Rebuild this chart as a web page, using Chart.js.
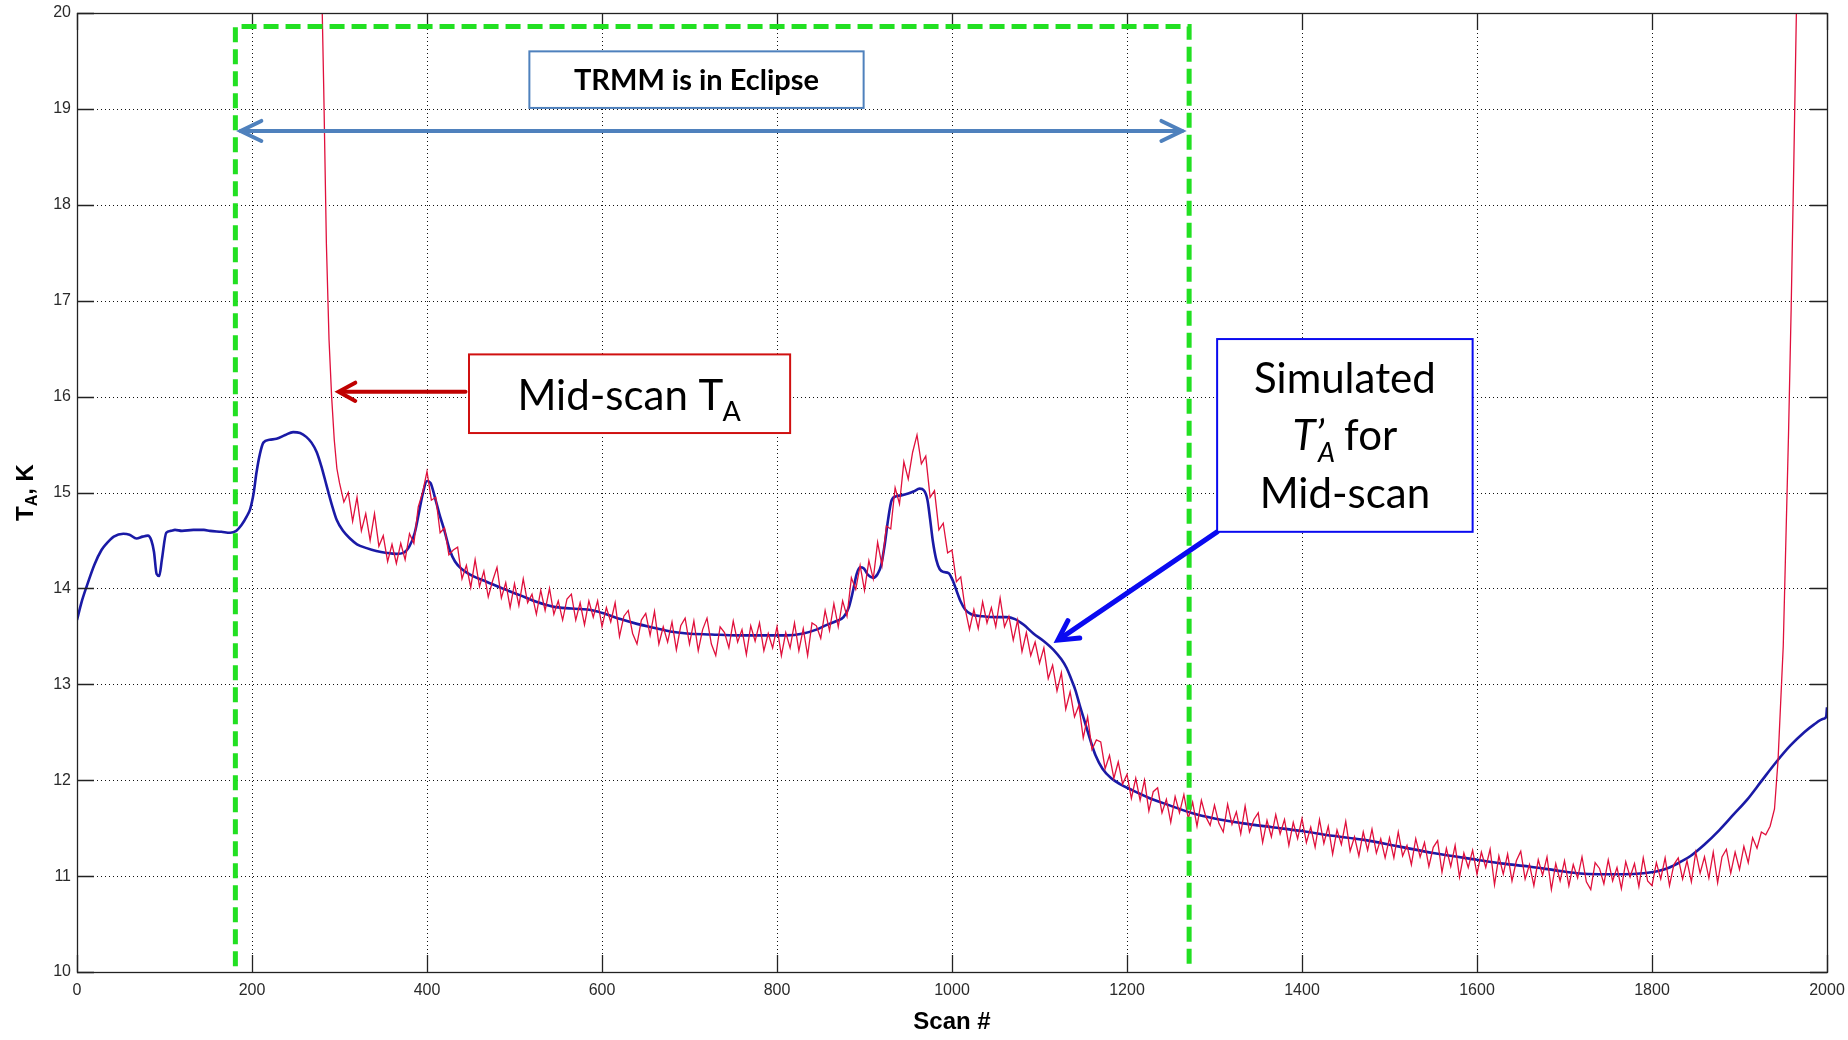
<!DOCTYPE html>
<html>
<head>
<meta charset="utf-8">
<title>TRMM eclipse mid-scan TA</title>
<script src="https://cdn.jsdelivr.net/npm/chart.js@4.4.1/dist/chart.umd.min.js"></script>
<style>
  html, body { margin: 0; padding: 0; background: #fff; }
  #wrap { width: 1848px; height: 1040px; }
</style>
</head>
<body>
<div id="wrap"><canvas id="taChart" width="1848" height="1040"></canvas></div>
<script>
// axis ticks
const xTicks = [0, 200, 400, 600, 800, 1000, 1200, 1400, 1600, 1800, 2000];
const yTicks = [10, 11, 12, 13, 14, 15, 16, 17, 18, 19, 20];

// simulated T'A (blue)
const blueScan = [
  0, 5, 11, 20, 28, 34, 42, 53, 60, 68,
  75, 81, 85, 88, 91, 94, 97, 102, 107, 112,
  120, 133, 145, 152, 165, 175, 182, 188, 194, 198,
  202, 205, 209, 213, 220, 228, 238, 247, 255, 262,
  268, 274, 280, 285, 291, 297, 304, 312, 320, 331,
  342, 354, 365, 373, 380, 386, 391, 395, 400, 404,
  409, 414, 420, 426, 432, 440, 452, 468, 486, 506,
  525, 544, 565, 590, 605, 621, 640, 659, 678, 697,
  725, 754, 785, 811, 830, 845, 857, 868, 876, 882,
  887, 891, 895, 899, 904, 910, 915, 919, 923, 927,
  931, 936, 942, 950, 956, 963, 968, 972, 975, 978,
  982, 986, 991, 996, 1001, 1005, 1010, 1015, 1022, 1035,
  1050, 1062, 1072, 1082, 1093, 1105, 1116, 1125, 1131, 1136,
  1141, 1146, 1152, 1158, 1164, 1172, 1182, 1192, 1205, 1224,
  1248, 1273, 1300, 1333, 1366, 1400, 1435, 1469, 1510, 1550,
  1600, 1630, 1659, 1690, 1714, 1740, 1768, 1790, 1806, 1820,
  1833, 1844, 1860, 1877, 1893, 1909, 1925, 1942, 1958, 1974,
  1985, 1996, 1999, 2000
];
const blueTemp = [
  13.67, 13.85, 14.02, 14.25, 14.40, 14.47, 14.54, 14.57, 14.56, 14.52,
  14.54, 14.55, 14.50, 14.38, 14.15, 14.13, 14.30, 14.58, 14.60, 14.61,
  14.60, 14.61, 14.61, 14.60, 14.59, 14.58, 14.60, 14.66, 14.75, 14.83,
  15.00, 15.20, 15.40, 15.52, 15.55, 15.56, 15.60, 15.63, 15.62, 15.58,
  15.52, 15.42, 15.25, 15.08, 14.88, 14.71, 14.60, 14.52, 14.46, 14.42,
  14.39, 14.37, 14.36, 14.37, 14.44, 14.58, 14.80, 14.98, 15.12, 15.10,
  14.95, 14.78, 14.60, 14.40, 14.28, 14.20, 14.13, 14.07, 14.00, 13.93,
  13.86, 13.81, 13.79, 13.77, 13.73, 13.68, 13.63, 13.59, 13.55, 13.53,
  13.52, 13.51, 13.51, 13.51, 13.53, 13.57, 13.62, 13.66, 13.70, 13.80,
  13.98, 14.15, 14.22, 14.21, 14.14, 14.11, 14.15, 14.24, 14.45, 14.72,
  14.92, 14.96, 14.97, 14.99, 15.01, 15.04, 15.02, 14.92, 14.72, 14.50,
  14.30, 14.20, 14.17, 14.16, 14.08, 13.98, 13.86, 13.78, 13.73, 13.71,
  13.70, 13.70, 13.68, 13.62, 13.53, 13.45, 13.36, 13.26, 13.17, 13.06,
  12.94, 12.78, 12.60, 12.42, 12.26, 12.12, 12.02, 11.96, 11.90, 11.82,
  11.74, 11.66, 11.60, 11.55, 11.51, 11.47, 11.42, 11.38, 11.31, 11.24,
  11.17, 11.13, 11.10, 11.06, 11.03, 11.02, 11.02, 11.03, 11.05, 11.09,
  11.15, 11.21, 11.33, 11.48, 11.64, 11.80, 11.99, 12.19, 12.36, 12.50,
  12.58, 12.64, 12.66, 12.76
];

// mid-scan TA (red): steep start, every 5th scan from 300 to 1935, steep end
const redHeadScan = [279, 282, 285, 288, 291, 294, 297];
const redHeadTemp = [20.6, 19.2, 17.6, 16.6, 16.0, 15.55, 15.25];
const redFirstScan = 300;
const redScanStep = 5;
const redTemp = [
  15.10, 14.90, 15.00, 14.70, 14.95, 14.60, 14.78, 14.50, 14.78, 14.44, 14.55, 14.28, 14.46, 14.26, 14.47, 14.30, 14.57, 14.47, 14.85, 15.00,
  15.22, 14.92, 14.95, 14.58, 14.63, 14.35, 14.40, 14.43, 14.10, 14.24, 14.01, 14.30, 14.02, 14.18, 13.91, 14.08, 14.22, 13.90, 14.06, 13.80,
  14.05, 13.82, 14.10, 13.85, 13.94, 13.73, 13.98, 13.77, 14.00, 13.73, 13.87, 13.67, 13.89, 13.94, 13.67, 13.85, 13.62, 13.87, 13.70, 13.87,
  13.60, 13.80, 13.65, 13.85, 13.50, 13.71, 13.77, 13.53, 13.42, 13.67, 13.74, 13.51, 13.76, 13.42, 13.60, 13.44, 13.65, 13.36, 13.61, 13.69,
  13.42, 13.66, 13.35, 13.57, 13.69, 13.42, 13.30, 13.60, 13.54, 13.38, 13.66, 13.44, 13.57, 13.31, 13.61, 13.45, 13.64, 13.35, 13.53, 13.38,
  13.60, 13.30, 13.54, 13.38, 13.64, 13.35, 13.58, 13.30, 13.64, 13.61, 13.48, 13.77, 13.56, 13.84, 13.60, 13.87, 13.71, 14.11, 13.99, 14.24,
  13.98, 14.29, 14.10, 14.48, 14.24, 14.65, 14.62, 15.05, 14.88, 15.32, 15.14, 15.42, 15.60, 15.30, 15.38, 14.95, 15.02, 14.61, 14.68, 14.37,
  14.40, 14.07, 14.12, 13.79, 13.57, 13.78, 13.58, 13.86, 13.64, 13.80, 13.60, 13.90, 13.60, 13.71, 13.46, 13.67, 13.34, 13.54, 13.30, 13.44,
  13.22, 13.38, 13.06, 13.20, 12.93, 13.12, 12.74, 12.92, 12.66, 12.78, 12.44, 12.66, 12.32, 12.42, 12.40, 12.12, 12.26, 12.02, 12.19, 11.96,
  12.06, 11.81, 12.02, 11.79, 12.00, 11.68, 11.88, 11.92, 11.66, 11.80, 11.56, 11.83, 11.66, 11.85, 11.60, 11.77, 11.52, 11.79, 11.62, 11.53,
  11.74, 11.55, 11.46, 11.75, 11.54, 11.67, 11.44, 11.73, 11.46, 11.59, 11.66, 11.35, 11.58, 11.41, 11.64, 11.44, 11.59, 11.32, 11.56, 11.39,
  11.60, 11.35, 11.51, 11.30, 11.59, 11.34, 11.52, 11.23, 11.48, 11.33, 11.57, 11.26, 11.41, 11.21, 11.46, 11.27, 11.49, 11.24, 11.39, 11.19,
  11.40, 11.19, 11.46, 11.21, 11.32, 11.12, 11.39, 11.20, 11.35, 11.10, 11.30, 11.37, 11.04, 11.29, 11.10, 11.32, 10.99, 11.24, 11.09, 11.27,
  11.02, 11.25, 11.09, 11.28, 10.91, 11.21, 11.02, 11.23, 10.95, 11.16, 11.26, 10.97, 11.12, 10.90, 11.17, 11.01, 11.20, 10.86, 11.13, 10.95,
  11.16, 10.90, 11.12, 10.98, 11.20, 10.94, 10.86, 11.14, 11.08, 10.92, 11.17, 10.95, 11.09, 10.87, 11.15, 10.99, 11.13, 10.89, 11.19, 10.95,
  10.90, 11.14, 10.97, 11.19, 10.90, 11.12, 11.19, 10.97, 11.16, 10.94, 11.25, 11.03, 11.20, 10.98, 11.25, 10.93, 11.20, 11.28, 11.03, 11.25,
  11.07, 11.31, 11.14, 11.40, 11.29, 11.46, 11.43, 11.52
];
const redTailScan = [1940, 1944, 1947, 1950, 1953, 1956, 1959, 1962, 1965, 1968];
const redTailTemp = [11.70, 12.20, 12.80, 13.40, 14.50, 15.60, 16.90, 18.40, 20.00, 21.50];

const bluePoints = blueScan.map((s, i) => ({ x: s, y: blueTemp[i] }));
const redPoints = redHeadScan.map((s, i) => ({ x: s, y: redHeadTemp[i] }))
  .concat(redTemp.map((t, i) => ({ x: redFirstScan + i * redScanStep, y: t })))
  .concat(redTailScan.map((s, i) => ({ x: s, y: redTailTemp[i] })));

function chevron(ctx, tipX, tipY, dirX, dirY, len, spread) {
  const ang = Math.atan2(dirY, dirX);
  ctx.beginPath();
  ctx.moveTo(tipX - len * Math.cos(ang - spread), tipY - len * Math.sin(ang - spread));
  ctx.lineTo(tipX, tipY);
  ctx.lineTo(tipX - len * Math.cos(ang + spread), tipY - len * Math.sin(ang + spread));
  ctx.stroke();
}

function box(ctx, l, t, r, b, color) {
  ctx.fillStyle = '#fff';
  ctx.fillRect(l, t, r - l, b - t);
  ctx.strokeStyle = color;
  ctx.lineWidth = 2;
  ctx.strokeRect(l, t, r - l, b - t);
}

// no extra room for edge labels: the layout padding places the plot box
function noEdgePadding(s) {
  s.paddingLeft = 0;
  s.paddingRight = 0;
  s.paddingTop = 0;
  s.paddingBottom = 0;
}

// grid, frame, ticks and the slide annotations
const decorations = {
  id: 'decorations',
  beforeDatasetsDraw(chart) {
    const { ctx, chartArea: a, scales: { x, y } } = chart;
    ctx.save();
    ctx.strokeStyle = '#111';
    ctx.lineWidth = 1;
    ctx.setLineDash([1, 3]);
    ctx.beginPath();
    x.ticks.forEach(t => {
      const p = Math.round(x.getPixelForValue(t.value)) + 0.5;
      if (p > a.left + 2 && p < a.right - 2) { ctx.moveTo(p, a.top); ctx.lineTo(p, a.bottom); }
    });
    y.ticks.forEach(t => {
      const p = Math.round(y.getPixelForValue(t.value)) + 0.5;
      if (p > a.top + 2 && p < a.bottom - 2) { ctx.moveTo(a.left, p); ctx.lineTo(a.right, p); }
    });
    ctx.stroke();
    ctx.restore();
  },
  afterDatasetsDraw(chart) {
    const { ctx, chartArea: a, scales: { x, y } } = chart;
    const tick = 17;
    ctx.save();
    ctx.strokeStyle = '#222';
    ctx.lineWidth = 1.3;
    ctx.beginPath();
    x.ticks.forEach(t => {
      const p = Math.round(x.getPixelForValue(t.value)) + 0.5;
      ctx.moveTo(p, a.bottom); ctx.lineTo(p, a.bottom - tick);
      ctx.moveTo(p, a.top); ctx.lineTo(p, a.top + tick);
    });
    y.ticks.forEach(t => {
      const p = Math.round(y.getPixelForValue(t.value)) + 0.5;
      ctx.moveTo(a.left, p); ctx.lineTo(a.left + tick, p);
      ctx.moveTo(a.right, p); ctx.lineTo(a.right - tick, p);
    });
    ctx.stroke();
    ctx.strokeRect(Math.round(a.left) + 0.5, Math.round(a.top) + 0.5, Math.round(a.right - a.left), Math.round(a.bottom - a.top));

    // eclipse period: green dashed frame
    const gl = x.getPixelForValue(181), gr = x.getPixelForValue(1271);
    const gt = y.getPixelForValue(19.86), gb = y.getPixelForValue(10.06);
    ctx.strokeStyle = '#22e022';
    ctx.lineWidth = 5;
    ctx.setLineDash([15, 7]);
    ctx.beginPath();
    ctx.moveTo(gl, gb); ctx.lineTo(gl, gt); ctx.lineTo(gr, gt); ctx.lineTo(gr, gb);
    ctx.stroke();
    ctx.setLineDash([]);

    // double arrow across the eclipse
    const ay = y.getPixelForValue(18.77);
    const al = x.getPixelForValue(187), ar = x.getPixelForValue(1263);
    ctx.strokeStyle = '#4f81bd';
    ctx.lineWidth = 4;
    ctx.lineCap = 'round';
    ctx.beginPath(); ctx.moveTo(al, ay); ctx.lineTo(ar, ay); ctx.stroke();
    chevron(ctx, al, ay, -1, 0, 23, 0.45);
    chevron(ctx, ar, ay, 1, 0, 23, 0.45);

    // title box
    const tl = x.getPixelForValue(517), tr = x.getPixelForValue(899);
    const tt = y.getPixelForValue(19.6), tb = y.getPixelForValue(19.01);
    box(ctx, tl, tt, tr, tb, '#4f81bd');
    ctx.fillStyle = '#000';
    ctx.font = 'bold 29px Lato';
    ctx.textAlign = 'center';
    ctx.textBaseline = 'alphabetic';
    ctx.fillText('TRMM is in Eclipse', (tl + tr) / 2, tt + 39);

    // mid-scan label and arrow
    const ry = y.getPixelForValue(16.05);
    const rs = x.getPixelForValue(444), re = x.getPixelForValue(299);
    ctx.strokeStyle = '#c00000';
    ctx.lineWidth = 4;
    ctx.beginPath(); ctx.moveTo(rs, ry); ctx.lineTo(re + 2, ry); ctx.stroke();
    chevron(ctx, re, ry, -1, 0, 19, 0.5);
    const ml = x.getPixelForValue(448), mr = x.getPixelForValue(815);
    const mt = y.getPixelForValue(16.44), mb = y.getPixelForValue(15.62);
    box(ctx, ml, mt, mr, mb, '#d01010');
    ctx.fillStyle = '#000';
    ctx.textAlign = 'left';
    ctx.font = '42px Lato';
    const mainW = ctx.measureText('Mid-scan T').width;
    ctx.font = '27px Lato';
    const subW = ctx.measureText('A').width;
    let mx = (ml + mr) / 2 - (mainW + subW) / 2;
    ctx.font = '42px Lato';
    ctx.fillText('Mid-scan T', mx, mt + 56);
    ctx.font = '27px Lato';
    ctx.fillText('A', mx + mainW - 1, mt + 67);

    // simulated label and arrow
    const sl = x.getPixelForValue(1303), sr = x.getPixelForValue(1595);
    const st = y.getPixelForValue(16.60), sb = y.getPixelForValue(14.59);
    const tipX = x.getPixelForValue(1121), tipY = y.getPixelForValue(13.46);
    ctx.strokeStyle = '#0a0af0';
    ctx.lineWidth = 5;
    ctx.beginPath(); ctx.moveTo(sl, sb); ctx.lineTo(tipX + 3, tipY - 2); ctx.stroke();
    chevron(ctx, tipX, tipY, tipX - sl, tipY - sb, 22, 0.5);
    box(ctx, sl, st, sr, sb, '#0a0af0');
    const cx = (sl + sr) / 2;
    ctx.fillStyle = '#000';
    ctx.textAlign = 'center';
    ctx.font = '42px Lato';
    ctx.fillText('Simulated', cx, st + 54);
    ctx.fillText('Mid-scan', cx, st + 169);
    ctx.textAlign = 'left';
    ctx.font = 'italic 42px Lato';
    const tW = ctx.measureText('T\u2019').width;
    ctx.font = 'italic 27px Lato';
    const aW = ctx.measureText('A').width;
    ctx.font = '42px Lato';
    const fW = ctx.measureText('for').width;
    const gap = 9;
    let lx = cx - (tW - 6 + aW + gap + fW) / 2;
    ctx.font = 'italic 42px Lato';
    ctx.fillText('T\u2019', lx, st + 111);
    ctx.font = 'italic 27px Lato';
    ctx.fillText('A', lx + tW - 6, st + 123);
    ctx.font = '42px Lato';
    ctx.fillText('for', lx + tW - 6 + aW + gap, st + 111);

    // y axis title with subscript
    const yc = (a.top + a.bottom) / 2;
    ctx.translate(26, yc);
    ctx.rotate(-Math.PI / 2);
    ctx.fillStyle = '#000';
    ctx.font = 'bold 24px "Liberation Sans"';
    const w1 = ctx.measureText('T').width;
    const w3 = ctx.measureText(', K').width;
    ctx.font = 'bold 16px "Liberation Sans"';
    const w2 = ctx.measureText('A').width;
    let tx = -(w1 + w2 + w3) / 2;
    ctx.textBaseline = 'middle';
    ctx.font = 'bold 24px "Liberation Sans"';
    ctx.fillText('T', tx, 0);
    ctx.font = 'bold 16px "Liberation Sans"';
    ctx.fillText('A', tx + w1, 7);
    ctx.font = 'bold 24px "Liberation Sans"';
    ctx.fillText(', K', tx + w1 + w2, 0);
    ctx.restore();
  }
};

const ctx = document.getElementById('taChart').getContext('2d');
const chart = new Chart(ctx, {
  type: 'line',
  data: {
    datasets: [
      {
        label: 'Mid-scan TA',
        data: redPoints,
        borderColor: '#e0103c',
        borderWidth: 1.3,
        pointRadius: 0,
        tension: 0
      },
      {
        label: "Simulated T'A",
        data: bluePoints,
        borderColor: '#1a1aa6',
        borderWidth: 2.6,
        pointRadius: 0,
        cubicInterpolationMode: 'monotone'
      }
    ]
  },
  options: {
    responsive: false,
    devicePixelRatio: 1,
    animation: false,
    layout: { padding: { top: 13, right: 21, left: 0, bottom: 0 } },
    plugins: { legend: { display: false }, tooltip: { enabled: false } },
    scales: {
      x: {
        type: 'linear',
        min: 0,
        max: 2000,
        afterBuildTicks: s => { s.ticks = xTicks.map(v => ({ value: v })); },
        afterFit: s => { s.height = 68; noEdgePadding(s); },
        grid: { display: false, drawTicks: false },
        border: { display: false },
        ticks: {
          autoSkip: false,
          maxRotation: 0,
          padding: 9,
          color: '#2a2a2a',
          font: { family: 'Liberation Sans', size: 16 },
          callback: v => String(v)
        },
        title: {
          display: true,
          text: 'Scan #',
          color: '#000',
          font: { family: 'Liberation Sans', size: 24, weight: 'bold' },
          padding: { top: 0, bottom: 3 }
        }
      },
      y: {
        type: 'linear',
        min: 10,
        max: 20,
        afterBuildTicks: s => { s.ticks = yTicks.map(v => ({ value: v })); },
        afterFit: s => { s.width = 77; noEdgePadding(s); },
        grid: { display: false, drawTicks: false },
        border: { display: false },
        ticks: {
          autoSkip: false,
          padding: 6,
          color: '#2a2a2a',
          font: { family: 'Liberation Sans', size: 16 },
          callback: v => String(v)
        }
      }
    }
  },
  plugins: [decorations]
});
</script>
</body>
</html>
